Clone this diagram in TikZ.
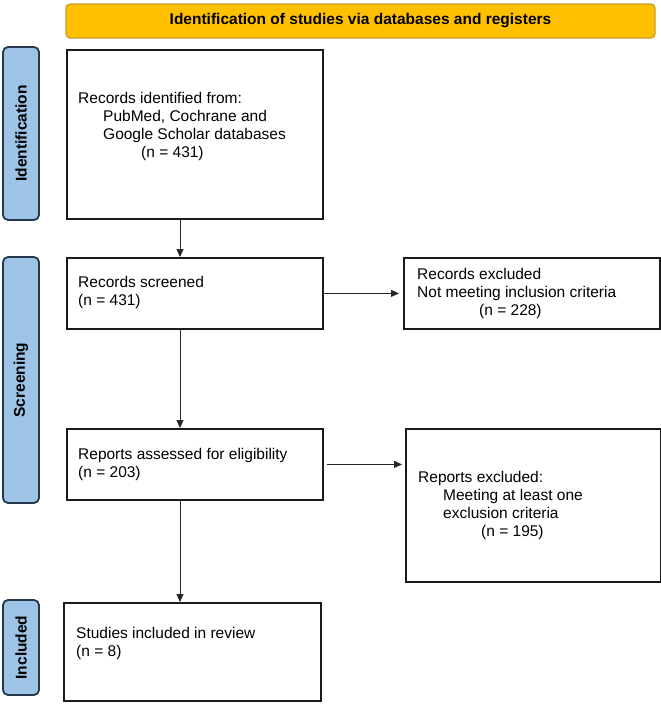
\documentclass[tikz,border=0pt]{standalone}
\usepackage{fontspec}
\setmainfont{Liberation Sans}
\usetikzlibrary{arrows.meta}
\definecolor{hdrfill}{HTML}{FFC000}
\definecolor{hdrdraw}{HTML}{C89B2A}
\definecolor{sidefill}{HTML}{9DC3E6}
\definecolor{sidedraw}{HTML}{26384C}
\definecolor{boxdraw}{HTML}{1A1A1A}
\tikzset{
  box/.style={draw=boxdraw, line width=1.8pt, fill=white, inner sep=0pt, anchor=north west},
  txt/.style={inner sep=0pt, anchor=west, align=left, font=\fontsize{15.5}{18}\selectfont},
  side/.style={draw=sidedraw, line width=1.8pt, fill=sidefill, rounded corners=5pt, rotate=90,
    inner sep=0pt, minimum height=36pt, font=\bfseries\fontsize{15.5}{18}\selectfont},
  hdr/.style={draw=hdrdraw, line width=1.2pt, fill=hdrfill, rounded corners=4pt, inner sep=0pt,
    minimum width=589pt, minimum height=34pt, font=\bfseries\fontsize{15.5}{18}\selectfont},
  arr/.style={draw=black!85, line width=0.9pt, -{Triangle[length=8pt,width=7pt]}},
}
\begin{document}
\begin{tikzpicture}[x=1pt,y=-1pt]
\useasboundingbox (0,0) rectangle (661,707);
% header
\node[hdr] (hdr) at (360.5,21) {Identification of studies via databases and registers};
% side labels
\node[side, minimum width=173pt] (s1) at (21,133.5) {Identification};
\node[side, minimum width=246pt] (s2) at (21,380) {Screening};
\node[side, minimum width=95pt] (s3) at (21,647.5) {Included};
% boxes
\node[box, minimum width=256pt, minimum height=169pt] (b1) at (66,49) {};
\node[box, minimum width=256pt, minimum height=71pt] (b2) at (66,257) {};
\node[box, minimum width=256pt, minimum height=71pt] (b3) at (403,257) {};
\node[box, minimum width=256pt, minimum height=71pt] (b4) at (66,428) {};
\node[box, minimum width=255pt, minimum height=153pt] (b5) at (405,428) {};
\node[box, minimum width=257pt, minimum height=98pt] (b6) at (63,602) {};
% texts
\node[txt] (t1) at (78,126) {Records identified from:\\\hspace*{25pt}PubMed, Cochrane and\\\hspace*{25pt}Google Scholar databases\\\hspace*{63pt}(n = 431)};
\node[txt] (t2) at (78,292.5) {Records screened\\(n = 431)};
\node[txt] (t3) at (417,293) {Records excluded\\Not meeting inclusion criteria\\\hspace*{62pt}(n = 228)};
\node[txt] (t4) at (78,464) {Reports assessed for eligibility\\(n = 203)};
\node[txt] (t5) at (418,505) {Reports excluded:\\\hspace*{25pt}Meeting at least one\\\hspace*{25pt}exclusion criteria\\\hspace*{63pt}(n = 195)};
\node[txt] (t6) at (76,643.5) {Studies included in review\\(n = 8)};
% connectors
\coordinate (ax) at (180,0);
\draw[arr] (b1.south -| ax) -- (b2.north -| ax);
\draw[arr] (b2.south -| ax) -- (b4.north -| ax);
\draw[arr] (b4.south -| ax) -- (b6.north -| ax);
\draw[arr, shorten >=4pt] (b2.east) -- (b2.east -| b3.west);
\draw[arr, shorten <=3pt, shorten >=3pt] (b4.east) -- (b4.east -| b5.west);
\end{tikzpicture}
\end{document}
